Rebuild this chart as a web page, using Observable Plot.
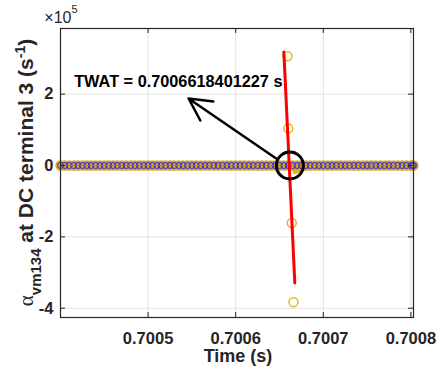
<!DOCTYPE html>
<html><head><meta charset="utf-8">
<script src="https://cdn.jsdelivr.net/npm/d3@7"></script>
<script src="https://cdn.jsdelivr.net/npm/@observablehq/plot@0.6"></script>
<style>
body{margin:0;background:#fff}
#chart svg{font-family:"Liberation Sans",Arial,Helvetica,sans-serif}
</style>
</head><body><div id="chart"></div>
<script>
// sampled signal (s, s^-1)
const sampleTimes = [
 0.700400,0.700405,0.700410,0.700415,0.700420,0.700425,0.700430,0.700435,0.700440,0.700445,
 0.700450,0.700455,0.700460,0.700465,0.700470,0.700475,0.700480,0.700485,0.700490,0.700495,
 0.700500,0.700505,0.700510,0.700515,0.700520,0.700525,0.700530,0.700535,0.700540,0.700545,
 0.700550,0.700555,0.700560,0.700565,0.700570,0.700575,0.700580,0.700585,0.700590,0.700595,
 0.700600,0.700605,0.700610,0.700615,0.700620,0.700625,0.700630,0.700635,0.700640,0.700645,
 0.700650,0.700655,0.700660,0.700665,0.700670,0.700675,0.700680,0.700685,0.700690,0.700695,
 0.700700,0.700705,0.700710,0.700715,0.700720,0.700725,0.700730,0.700735,0.700740,0.700745,
 0.700750,0.700755,0.700760,0.700765,0.700770,0.700775,0.700780,0.700785,0.700790,0.700795,
 0.700800,0.700802,0.700803
];
const sampleValues = [
 0,0,0,0,0,0,0,0,0,0,
 0,0,0,0,0,0,0,0,0,0,
 0,0,0,0,0,0,0,0,0,0,
 0,0,0,0,0,0,0,0,0,0,
 0,0,0,0,0,0,0,0,0,0,
 0,0,0,0,0,0,0,0,0,0,
 0,0,0,0,0,0,0,0,0,0,
 0,0,0,0,0,0,0,0,0,0,
 0,0,0
];
// small dip of the orange trace after the event
const dipTimes  = [0.700664, 0.700667, 0.700671, 0.700676, 0.700681, 0.700687, 0.700693, 0.700700];
const dipValues = [0, -2.4e4, -2.2e4, -1.7e4, -1.2e4, -0.8e4, -0.4e4, 0];
// points used for the zero-crossing estimate
const outlierTimes  = [0.700659, 0.700660, 0.700664, 0.700666];
const outlierValues = [3.06e5, 1.04e5, -1.61e5, -3.83e5];
// fitted line
const fitTimes  = [0.700655, 0.7006675];
const fitValues = [3.18e5, -3.29e5];
// annotation
const twat = 0.7006618401227;
const twatLabel = "TWAT = 0.7006618401227 s";
const labelAt = [0.7004156, 2.19e5];
const arrowFrom = [0.7006462, 1.96e4];
const arrowTo = [0.7005462, 1.88e5];
// axes
const xTicks = [0.7005, 0.7006, 0.7007, 0.7008];
const yTicks = [-4e5, -2e5, 0, 2e5];
const xDomain = [0.7004, 0.700803];
const yDomain = [-4.26e5, 3.84e5];

const samples = sampleTimes.map((t, i) => ({t, v: sampleValues[i]}));
const dip = dipTimes.map((t, i) => ({t, v: dipValues[i]}));
const outliers = outlierTimes.map((t, i) => ({t, v: outlierValues[i]}));
const fit = fitTimes.map((t, i) => ({t, v: fitValues[i]}));

const W = 440, H = 370, mL = 60, mT = 28, mR = 27, mB = 53;
const pw = W - mL - mR, ph = H - mT - mB;
const orange = "#EDB120", axisC = "#262626", gridC = "#e3e3e3";

const plot = Plot.plot({
  width: W, height: H,
  marginLeft: mL, marginTop: mT, marginRight: mR, marginBottom: mB,
  style: {fontFamily: '"Liberation Sans",Arial,sans-serif', fontSize: "16.5px", fontWeight: "bold", color: axisC, background: "white", overflow: "visible"},
  x: {domain: xDomain, label: null},
  y: {domain: yDomain, label: null},
  marks: [
    Plot.gridX(xTicks, {stroke: gridC, strokeOpacity: 1}),
    Plot.gridY(yTicks, {stroke: gridC, strokeOpacity: 1}),
    Plot.line(samples, {x: "t", y: "v", stroke: orange, strokeWidth: 8}),
    Plot.areaY(dip, {x: "t", y: "v", fill: orange, stroke: orange, strokeWidth: 1.5}),
    Plot.dot(samples, {x: "t", y: "v", r: 4.5, stroke: "#d9a21c", strokeWidth: 1.3}),
    Plot.dot(samples, {x: "t", y: "v", r: 3, stroke: "#2a2ad8", strokeWidth: 1}),
    Plot.dot(outliers, {x: "t", y: "v", r: 4.5, stroke: orange, strokeWidth: 1.5}),
    Plot.line(fit, {x: "t", y: "v", stroke: "#ff0000", strokeWidth: 3}),
    Plot.dot([twat], {x: d => d, y: () => 0, r: 13.5, stroke: "black", strokeWidth: 3}),
    Plot.arrow([0], {x1: () => arrowFrom[0], y1: () => arrowFrom[1], x2: () => arrowTo[0], y2: () => arrowTo[1],
      stroke: "black", strokeWidth: 2.5, headLength: 15, headAngle: 55}),
    Plot.text([twatLabel], {x: () => labelAt[0], y: () => labelAt[1], text: d => d, textAnchor: "start", lineAnchor: "bottom",
      fontSize: 16.3, fontWeight: "bold", fill: "black"}),
    Plot.axisX(xTicks, {tickSize: 0, tickPadding: 15, tickFormat: d3.format(".4f"), label: null}),
    Plot.axisY(yTicks, {tickSize: 0, tickPadding: 7, tickFormat: d => String(d / 1e5), label: null}),
    Plot.tickX(xTicks, {x: d => d, insetTop: ph - 5, stroke: axisC}),
    Plot.tickX(xTicks, {x: d => d, insetBottom: ph - 5, stroke: axisC}),
    Plot.tickY(yTicks, {y: d => d, insetRight: pw - 5, stroke: axisC}),
    Plot.tickY(yTicks, {y: d => d, insetLeft: pw - 5, stroke: axisC}),
    Plot.frame({stroke: axisC, strokeWidth: 1.2})
  ]
});

const svg = d3.select(plot);
// exponent
const ex = svg.append("text").attr("x", 61).attr("y", 23)
  .attr("font-size", 16).attr("font-weight", "normal").attr("fill", axisC);
ex.append("tspan").text("×10");
ex.append("tspan").attr("dy", -10).attr("font-size", 11).text("5");
// x label
svg.append("text").attr("x", 238).attr("y", 362).attr("text-anchor", "middle")
  .attr("font-size", 18).attr("font-weight", "bold").attr("fill", axisC).text("Time (s)");
// y label
const yl = svg.append("text").attr("transform", "translate(33,172.5) rotate(-90)")
  .attr("text-anchor", "middle").attr("font-size", 21).attr("font-weight", "bold").attr("fill", axisC);
yl.append("tspan").attr("font-family", '"Liberation Serif",serif').attr("font-weight", "normal").text("α");
yl.append("tspan").attr("dy", 7.5).attr("font-size", 15).text("vm134");
yl.append("tspan").attr("dy", -7.5).text(" at DC terminal 3 (s");
yl.append("tspan").attr("dy", -8).attr("font-size", 14).text("-1");
yl.append("tspan").attr("dy", 8).text(")");

document.getElementById("chart").appendChild(plot);
</script>
</body></html>
